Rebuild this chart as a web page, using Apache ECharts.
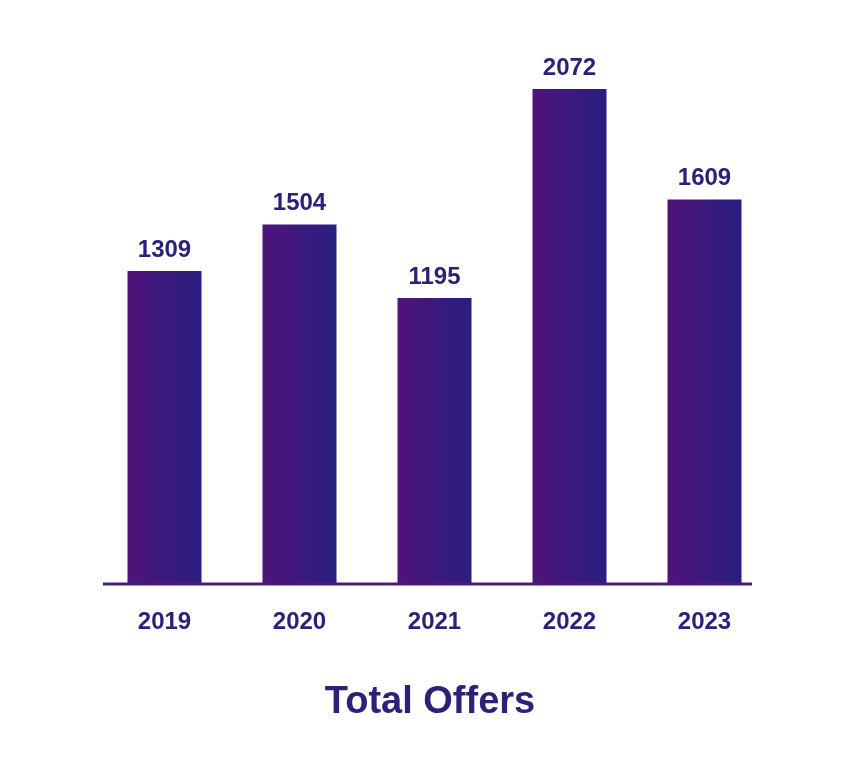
<!DOCTYPE html>
<html>
<head>
<meta charset="utf-8">
<script src="https://cdn.jsdelivr.net/npm/echarts@6/dist/echarts.min.js"></script>
<style>
  html, body { margin: 0; padding: 0; background: #fff; }
  #chart { width: 860px; height: 783px; }
</style>
</head>
<body>
<div id="chart"></div>
<script>
// 数据
const years = ['2019', '2020', '2021', '2022', '2023'];
const offers = [1309, 1504, 1195, 2072, 1609];

const textColor = '#2a2278';
const fontFamily = 'Liberation Sans, Arial, sans-serif';

const chart = echarts.init(document.getElementById('chart'));

const option = {
  backgroundColor: '#ffffff',
  animation: false,
  title: {
    text: 'Total Offers',
    left: 'center',
    top: 679,
    textStyle: {
      color: textColor,
      fontSize: 38,
      fontWeight: 'bold',
      fontFamily: fontFamily
    }
  },
  grid: {
    left: 97,
    right: 88,
    top: 89,
    bottom: 200
  },
  xAxis: {
    type: 'category',
    data: years,
    axisLine: { show: false },
    axisTick: { show: false },
    axisLabel: {
      color: textColor,
      fontSize: 24,
      fontWeight: 'bold',
      fontFamily: fontFamily,
      margin: 27
    }
  },
  yAxis: {
    type: 'value',
    min: 0,
    max: 2072,
    show: false,
    splitLine: { show: false }
  },
  series: [{
    type: 'bar',
    data: offers,
    barWidth: 74,
    itemStyle: {
      color: new echarts.graphic.LinearGradient(0, 0, 1, 0, [
        { offset: 0, color: '#501379' },
        { offset: 1, color: '#281f80' }
      ])
    },
    label: {
      show: true,
      position: 'top',
      distance: 9,
      color: textColor,
      fontSize: 24,
      fontWeight: 'bold',
      fontFamily: fontFamily
    }
  }]
};
chart.setOption(option);

// 底部基线（比网格略短）
const baseY = chart.convertToPixel({ gridIndex: 0 }, ['2019', 0])[1];
chart.setOption({
  graphic: [{
    type: 'line',
    shape: { x1: 103, y1: baseY + 1, x2: 752, y2: baseY + 1 },
    style: { stroke: '#4a1a7c', lineWidth: 3 },
    z: 10
  }]
});
</script>
</body>
</html>
